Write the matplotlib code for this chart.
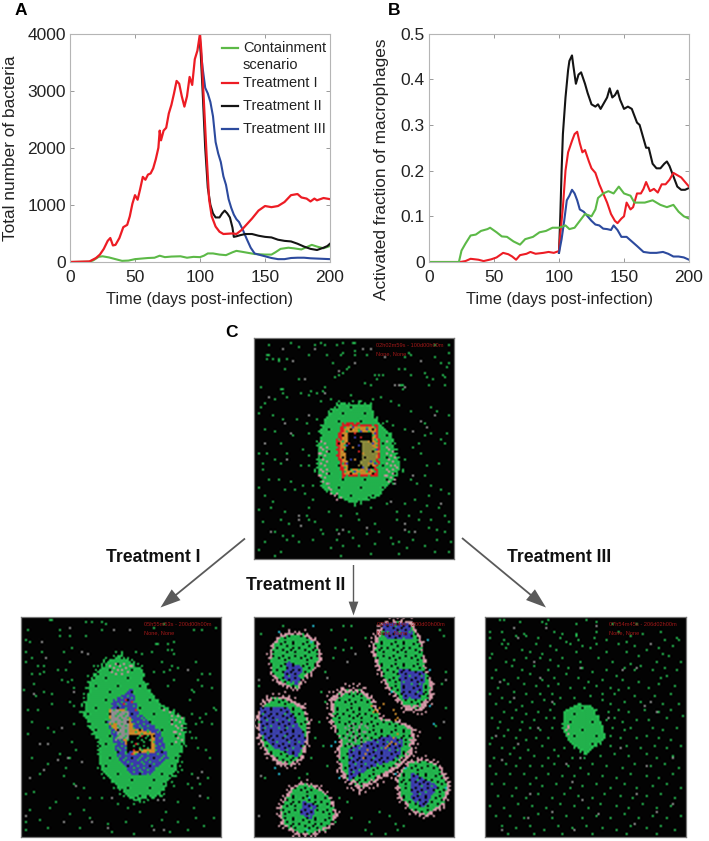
import numpy as np
import matplotlib
matplotlib.use('Agg')
import matplotlib.pyplot as plt
from matplotlib.path import Path

plt.rcParams['font.family'] = ['Liberation Sans', 'DejaVu Sans']

W, H = 709, 841
C_GREEN = '#5cb947'
C_RED = '#ed1c24'
C_BLACK = '#141414'
C_BLUE = '#2c4a9e'

# panel A curves (day, bacteria)
a_red_t = [0,15,20,23,26,29,31,33,35,38,41,44,46,48,50,52,54,56,58,60,62,64,66,68,69,70,72,74,76,78,80,82,84,86,88,90,92,94,96,98,100,101,103,105,107,109,112,115,118,125,128,132,136,140,145,150,155,160,165,170,175,178,182,185,188,190,195,200]
a_red_v = [0,10,70,130,230,370,420,290,300,420,610,650,800,1020,1170,1090,1280,1490,1440,1530,1550,1640,1800,2000,2300,2130,2300,2350,2600,2750,2950,3170,3120,2900,2720,2900,3240,3100,3550,3700,4000,3700,2800,1900,1100,800,620,530,490,500,490,560,660,760,900,980,960,980,1050,1170,1190,1130,1110,1060,1110,1080,1120,1100]
a_black_t = [100,102,104,106,108,110,112,115,117,119,121,123,125,126,128,131,135,140,145,150,155,160,165,170,175,180,185,190,195,198,200]
a_black_v = [3900,3000,2000,1300,1000,850,780,780,850,900,850,780,600,440,450,470,490,490,460,440,430,390,370,360,320,270,230,210,250,280,320]
a_blue_t = [100,102,104,106,108,110,112,114,116,118,120,122,124,126,128,130,133,136,139,142,145,150,155,160,165,170,175,180,185,190,195,200]
a_blue_v = [3850,3400,3050,2950,2800,2550,2100,1900,1750,1500,1350,1100,950,830,750,700,560,400,250,150,130,100,70,50,50,70,75,75,65,60,55,50]
a_green_t = [0,15,18,22,25,30,35,40,45,50,55,60,65,69,73,78,85,90,95,100,103,106,110,115,120,125,128,132,137,142,150,155,158,162,168,172,178,183,186,190,195,200]
a_green_v = [0,5,30,90,100,80,50,20,25,50,60,70,75,110,85,95,100,75,90,85,110,150,150,130,120,170,195,180,160,140,130,130,170,230,250,240,220,270,300,270,240,280]

# panel B curves (day, fraction)
b_black_t = [100,101,102,103,105,107,108,110,111,113,115,117,120,122,125,128,130,132,135,137,139,141,143,145,147,150,153,156,158,160,162,165,167,169,172,175,178,181,183,185,187,189,191,194,197,200]
b_black_v = [0.02,0.1,0.2,0.28,0.36,0.42,0.44,0.452,0.43,0.39,0.41,0.415,0.39,0.37,0.345,0.34,0.345,0.335,0.35,0.36,0.38,0.36,0.365,0.375,0.355,0.335,0.34,0.335,0.32,0.305,0.3,0.27,0.25,0.25,0.215,0.205,0.205,0.215,0.22,0.21,0.195,0.18,0.165,0.158,0.158,0.162]
b_red_t = [0,24,28,32,38,42,48,52,57,61,64,67,70,75,78,82,88,92,96,100,101,103,105,107,110,112,114,116,118,120,123,125,128,131,134,137,140,143,145,148,150,152,155,157,160,163,165,167,170,173,176,179,182,185,188,191,194,197,200]
b_red_v = [0,0,0.002,0.007,0.005,0.002,0.006,0.01,0.02,0.017,0.012,0.005,0.015,0.018,0.022,0.018,0.02,0.022,0.02,0.024,0.06,0.12,0.2,0.24,0.265,0.28,0.285,0.26,0.24,0.245,0.22,0.205,0.195,0.17,0.15,0.13,0.105,0.09,0.085,0.095,0.1,0.13,0.115,0.12,0.15,0.15,0.16,0.175,0.155,0.16,0.152,0.17,0.17,0.18,0.195,0.19,0.185,0.175,0.165]
b_green_t = [0,23,25,28,32,36,40,45,47,52,56,60,65,70,74,80,85,90,95,100,105,108,112,116,120,125,128,130,134,138,142,146,150,155,158,162,166,172,178,183,188,192,196,200]
b_green_v = [0,0,0.025,0.04,0.058,0.06,0.068,0.072,0.075,0.065,0.056,0.055,0.045,0.038,0.05,0.055,0.065,0.068,0.075,0.075,0.08,0.072,0.075,0.09,0.105,0.1,0.115,0.14,0.15,0.155,0.15,0.165,0.15,0.145,0.13,0.13,0.13,0.135,0.125,0.12,0.125,0.11,0.1,0.095]
b_blue_t = [100,102,104,106,108,110,112,114,116,119,122,125,128,131,134,137,140,142,145,148,152,156,160,165,170,175,180,184,188,192,196,200]
b_blue_v = [0.02,0.05,0.09,0.135,0.145,0.158,0.15,0.135,0.115,0.11,0.1,0.09,0.082,0.08,0.073,0.072,0.07,0.08,0.07,0.055,0.055,0.045,0.035,0.022,0.02,0.02,0.022,0.018,0.012,0.012,0.01,0.005]

legend_labels = ['Containment\nscenario', 'Treatment I', 'Treatment II', 'Treatment III']
arrow_labels = ['Treatment I', 'Treatment II', 'Treatment III']

# simulation grids: 100 x 110 cells
CELL = {'g': '#22b14c', 'b': '#3a3fa6', 'o': '#c4852b', 'l': '#85853a', 'k': '#050505',
        'e': '#8c8c8c', 'p': '#c4919c', 'r': '#cf2222', 'c': '#22b5c9', 'u': '#6b2b6e'}

tile_dense = ['###########','####.######','##########.','###########','.##########','######.####','###########','##.########','#########.#','###########','#####.#####']
tile_mid = ['#.###.#####','####.###.##','##.#####.##','#####.#####','.###.###.##','###.###.###','#####.###.#','.#####.####','###.#####.#','#.####.####','####.###.##']
tile_sparse = ['.#...#..#..','...#...#...','#....#....#','..#.....#..','....#.#....','.#.......#.','...#..#....','#.....#..#.','..#.#......','.....#...#.','#..#....#..']

top_layers = [
    ('g', [(37.5,37),(43,33),(58,34),(60,41),(67,47.5),(70,57.5),(72,64),(67,71),(60,77.5),(50,81),(42,78),(35,74),(32,66),(32.5,54),(34,44)], tile_dense),
    ('p', [(32,50),(37,50),(36,72),(44,80),(40,80),(32,68)], tile_sparse),
    ('p', [(66,50),(72,60),(70,70),(64,72)], tile_sparse),
    ('r', [(44,41),(61,43),(63,56),(61,68),(44,69),(41,58),(41,50)], tile_mid),
    ('o', [(45,43),(60,44),(62,56),(59,67),(45,67),(42.5,58),(43,51)], tile_mid),
    ('k', [(47,46),(58,46),(59,64),(47,65),(45,56)], tile_dense),
    ('l', [(53,51),(57,50),(61,57),(60,60),(55,65),(52,63),(54,58)], tile_dense),
]
top_blue = [(49,44),(53,46),(56,45),(60,47),(59,52),(61,55),(46,53),(50,49),(58,61),(48,60),(50,66),(54,64),(57,65),(46,62),(52,53),(60,62)]
top_red = [(50,47),(53,49),(44,55),(47,52),(52,56),(57,66),(62,50),(45,62)]
left_layers = [
    ('g', [(49.5,20),(60,27),(61,33),(68,43),(80,50),(80,62),(76,75),(68,87),(56,90),(48,83),(40,75),(39,62),(32,48),(35,32),(41,25)], tile_dense),
    ('p', [(68,43),(80,50),(80,62),(76,62),(74,50)], tile_sparse),
    ('p', [(44,22),(55,22),(56,28),(44,28)], tile_sparse),
    ('b', [(44.5,42),(55,35),(58,47),(69.5,57),(73,70),(64.5,78),(54.5,78),(48,70),(46,62),(43,52)], tile_mid),
    ('o', [(44,45),(52,45),(56,55),(66,57.5),(66,67),(56,68),(49.5,60),(44,53)], tile_mid),
    ('k', [(52,58),(65,58),(64,65),(53,67)], tile_mid),
    ('e', [(44.5,45),(53,47),(53,60),(47,61),(48,53),(44,52)], tile_mid),
]
left_red = [(52,41),(55,42),(57,46),(51,43),(56,66),(55,68),(57,63),(60,59)]
mid_blobs = [
    [(12,9),(17,7),(24,7),(31,12),(33,20),(30,26),(25,30),(21,36),(14,34),(8,28),(7,20),(8,14)],
    [(4,42),(9,39),(15,39),(24,44),(27,52),(26,62),(24,70),(18,74),(12,73),(6,68),(2,60),(1,50)],
    [(18,85),(24,82),(31,84),(38,90),(41,98),(37,105),(28,109),(20,108),(13,103),(12,95)],
    [(62,4),(70,1),(78,2),(83,12),(85,25),(88,32),(88,40),(83,46),(75,46),(66,35),(62,27),(58,16)],
    [(38,40),(44,35),(52,35),(58,40),(63,50),(72,52),(80,56),(78,68),(70,76),(60,82),(52,86),(44,80),(41,72),(42,62),(38,52)],
    [(76,72),(84,70),(92,74),(97,84),(94,94),(86,99),(78,97),(72,90),(70,80)],
]
mid_blue = [
    [(16,22),(23,25),(21,33),(15,30)],
    [(4,46),(16,46),(24,60),(20,68),(10,64),(4,58)],
    [(24,92),(30,94),(28,100),(23,98)],
    [(64,3),(76,3),(78,10),(66,10)],
    [(72,26),(84,28),(82,40),(74,40)],
    [(48,66),(58,62),(66,60),(72,62),(70,70),(58,74),(48,80)],
    [(78,78),(90,84),(84,94),(78,90)],
]
mid_orange = [(58,44),(60,46),(62,45),(64,43),(61,47),(59,47),(69,46),(70,48),(71,50),(70,51),(68,62),(69,60),(70,63),(71,58),(66,64),(67,63),(65,65),(55,68),(54,70),(56,66)]
mid_mesh = [(45,52),(56,52),(56,64),(45,64)]
right_layers = [
    ('g', [(39,47),(47,43),(53.5,45),(58.5,57),(58.5,60),(50,67.5),(42,62.5),(38.5,55)], tile_dense),
    ('p', [(38,53),(42,53),(43,58),(39,58)], tile_sparse),
]

top_green = [(7,3),(18,2),(22,4),(30,3),(33,2),(35,3),(41,3),(44,2),(49,2),(50,2),(6,8),(7,8),(6,10),(9,10),(12,10),(16,10),(27,8),(36,8),(43,8),(44,7),(50,8),(50,6),(12,11),(56,8),(77,7),(78,8),(90,3),(97,3),(97,7),(75,9),(90,9),(93,12),(97,12),(96,14),(39,12),(47,14),(46,15),(15,15),(42,18),(44,17),(60,18),(62,18),(64,18),(72,15),(75,15),(78,18),(85,17),(86,19),(89,20),(94,18),(95,19),(3,24),(13,25),(14,25),(22,20),(40,19),(55,22),(61,20),(58,23),(73,23),(74,23),(74,25),(87,23),(95,23),(14,27),(28,26),(34,26),(35,24),(3,34),(5,32),(10,30),(16,29),(23,27),(27,28),(31,27),(33,31),(38,30),(48,28),(52,31),(59,30),(63,29),(68,31),(72,33),(78,36),(88,34),(91,36),(97,38),(2,37),(9,38),(14,40),(21,40),(26,42),(31,40),(66,41),(69,43),(75,45),(85,42),(88,47),(93,50),(95,52),(5,45),(10,46),(19,48),(27,47),(5,52),(13,52),(24,55),(85,48),(79,54),(82,52),(96,47),(2,57),(6,57),(10,60),(16,57),(27,58),(27,63),(75,60),(83,57),(92,62),(4,62),(4,65),(13,62),(23,63),(74,66),(86,63),(85,68),(7,70),(12,70),(18,71),(24,73),(29,73),(2,74),(15,75),(20,75),(25,77),(29,80),(78,70),(81,72),(88,73),(93,75),(97,77),(5,78),(9,81),(27,84),(66,82),(75,82),(80,80),(87,78),(92,84),(2,85),(8,84),(15,86),(26,88),(37,86),(43,88),(51,87),(58,84),(71,86),(83,86),(86,83),(95,88),(4,91),(13,90),(17,92),(27,90),(30,91),(52,90),(60,92),(71,90),(77,88),(82,90),(88,90),(91,95),(97,91),(10,96),(14,98),(19,98),(33,95),(41,95),(47,96),(56,97),(62,96),(77,96),(87,94),(95,96),(5,101),(16,100),(29,100),(34,97),(41,100),(49,99),(68,99),(72,101),(79,100),(85,103),(91,100),(98,101),(2,105),(13,106),(22,101),(38,104),(44,103),(52,103),(60,102),(69,102),(76,104),(90,106),(97,106),(10,108),(43,108),(58,107),(72,107)]
top_grey = [(14,5),(30,5),(54,5),(58,5),(19,11),(65,9),(83,11),(50,12),(42,16),(25,20),(70,23),(72,23),(75,24),(7,29),(35,27),(90,38),(15,42),(27,38),(83,41),(86,44),(18,47),(79,46),(5,52),(16,60),(79,68),(70,72),(37,72),(68,81),(22,90),(75,92),(93,82),(23,93),(56,94),(22,88),(8,96),(42,97),(75,95),(80,96),(44,95)]
left_green = [(14,1),(15,1),(32,2),(35,2),(40,2),(42,3),(3,6),(19,6),(40,6),(66,5),(71,3),(86,6),(90,6),(97,5),(2,11),(19,9),(24,9),(32,9),(4,12),(67,13),(68,13),(76,12),(73,13),(2,17),(5,20),(10,17),(21,17),(25,15),(57,17),(60,18),(65,17),(73,16),(75,16),(76,18),(2,22),(8,24),(11,24),(18,26),(24,22),(36,24),(70,22),(75,24),(78,25),(87,22),(5,28),(9,28),(11,27),(22,26),(66,27),(71,27),(74,26),(90,28),(94,28),(6,33),(20,31),(23,32),(25,31),(76,31),(88,31),(90,34),(95,35),(1,36),(11,37),(15,38),(26,35),(73,34),(85,36),(86,37),(7,39),(15,43),(24,42),(84,41),(96,45),(97,46),(3,46),(8,46),(26,44),(29,47),(85,48),(89,50),(92,48),(5,52),(13,55),(26,53),(87,53),(90,52),(95,53),(3,58),(16,57),(84,57),(85,60),(87,60),(19,68),(25,62),(27,66),(88,65),(92,66),(5,70),(13,73),(24,70),(94,70),(22,75),(80,76),(85,78),(93,80),(9,78),(21,79),(26,83),(31,85),(76,84),(83,83),(85,85),(89,83),(2,88),(6,87),(17,92),(28,90),(34,90),(40,90),(48,93),(70,89),(78,92),(86,95),(93,90),(4,96),(14,95),(24,98),(31,96),(53,95),(59,97),(72,97),(87,100),(96,100),(2,102),(9,101),(21,102),(34,100),(43,103),(52,102),(65,104),(70,101),(78,102),(91,104),(2,106),(13,105),(29,105),(45,107),(56,108),(74,107),(83,106)]
left_grey = [(24,5),(46,6),(54,6),(10,12),(30,17),(12,20),(33,18),(83,26),(6,38),(26,37),(20,55),(9,63),(13,63),(18,71),(30,72),(11,76),(23,70),(90,77),(88,80),(4,80),(27,84),(45,90),(89,89),(71,91),(68,91),(2,99),(35,102),(66,106),(43,105),(21,102),(71,106)]
mid_green = [(3,8),(14,4),(38,6),(44,4),(48,4),(40,15),(44,16),(45,11),(35,27),(39,20),(48,15),(55,10),(92,6),(94,9),(95,27),(93,33),(33,37),(35,42),(2,34),(95,45),(90,54),(92,60),(30,60),(34,64),(28,70),(36,74),(32,52),(5,80),(26,78),(22,80),(42,90),(46,92),(62,97),(67,99),(70,103),(55,106),(48,100),(35,106),(71,106),(65,108),(58,108),(74,104),(40,102),(57,102)]
mid_grey = [(46,22),(50,18),(2,31),(95,31),(3,79),(2,99),(70,52),(94,52),(50,60),(36,30)]
mid_cyan = [(29,4),(28,12),(12,7),(86,11),(87,26),(87,44),(68,37),(40,62),(38,64),(89,53),(12,78),(10,75),(75,75),(70,78),(27,90),(26,106),(42,80),(95,85)]
right_green = [(7,1),(9,1),(17,2),(28,2),(30,3),(31,1),(45,3),(50,1),(55,2),(63,3),(75,3),(2,7),(8,7),(14,5),(19,8),(20,9),(34,7),(38,8),(45,8),(55,7),(66,7),(72,9),(78,8),(87,7),(2,10),(9,11),(15,9),(26,10),(37,10),(40,12),(46,11),(45,9),(54,10),(60,11),(70,12),(82,13),(89,11),(95,10),(96,11),(8,13),(11,13),(18,16),(25,13),(32,14),(42,13),(48,14),(55,13),(66,13),(74,14),(80,16),(86,15),(93,14),(3,18),(10,15),(22,17),(28,18),(35,16),(45,17),(52,15),(60,17),(70,17),(76,19),(88,18),(91,19),(2,20),(10,22),(14,21),(20,20),(27,20),(32,21),(38,20),(47,22),(56,20),(63,22),(72,23),(77,24),(85,22),(97,22),(5,26),(13,24),(18,26),(24,24),(31,26),(36,24),(41,25),(48,25),(53,27),(60,26),(69,25),(74,26),(83,26),(89,25),(95,26),(3,30),(9,31),(16,30),(22,28),(28,31),(34,30),(40,28),(46,30),(51,32),(58,31),(65,29),(68,31),(76,32),(87,30),(90,29),(6,35),(11,33),(19,33),(25,34),(31,34),(36,33),(42,35),(49,35),(55,34),(62,35),(71,35),(81,35),(86,33),(94,34),(2,38),(8,40),(14,37),(20,38),(27,38),(33,38),(37,40),(44,40),(52,39),(58,38),(64,38),(66,36),(74,39),(84,39),(92,38),(5,43),(12,42),(18,44),(23,42),(29,41),(34,43),(58,41),(62,43),(69,42),(77,42),(88,43),(96,43),(9,47),(15,46),(20,48),(26,47),(32,46),(61,47),(66,46),(71,47),(79,46),(86,47),(92,46),(3,50),(7,52),(13,50),(18,52),(24,51),(30,50),(34,50),(60,51),(64,50),(68,52),(75,51),(81,51),(90,50),(98,49),(6,55),(11,56),(17,56),(22,55),(27,56),(33,55),(63,55),(69,56),(72,55),(83,55),(88,56),(95,55),(3,60),(9,59),(15,60),(20,61),(25,60),(31,60),(62,59),(67,60),(75,60),(80,59),(86,60),(92,61),(2,63),(8,65),(14,65),(21,66),(28,64),(34,66),(39,65),(55,64),(62,64),(70,64),(77,65),(84,64),(90,65),(97,64),(4,70),(12,68),(17,70),(24,69),(31,70),(36,69),(43,70),(49,70),(57,69),(64,68),(71,69),(80,68),(85,70),(93,69),(2,74),(10,73),(15,74),(22,74),(28,74),(34,73),(41,74),(47,75),(53,73),(60,74),(68,75),(74,73),(82,74),(89,73),(96,75),(5,78),(12,78),(19,78),(25,80),(31,78),(38,79),(44,79),(51,78),(58,79),(65,80),(72,78),(80,79),(86,80),(93,78),(3,83),(9,83),(15,85),(22,83),(28,84),(35,83),(42,85),(48,84),(55,83),(62,85),(69,83),(75,85),(83,84),(90,83),(97,85),(6,89),(13,89),(20,90),(26,88),(33,90),(39,88),(46,89),(53,90),(59,88),(67,89),(73,90),(80,89),(87,88),(94,90),(2,94),(9,95),(16,93),(23,94),(30,95),(37,93),(44,94),(51,95),(57,93),(65,94),(71,95),(78,93),(85,95),(92,94),(5,99),(12,99),(19,100),(26,98),(33,100),(40,99),(48,100),(55,99),(62,100),(69,98),(76,100),(83,99),(90,100),(97,99),(8,104),(15,105),(22,104),(29,106),(36,104),(43,105),(50,104),(58,105),(65,106),(72,104),(80,105),(87,104),(94,106),(11,108),(24,108),(38,108),(53,108),(70,108),(85,108)]
right_grey = [(14,5),(30,5),(55,4),(16,10),(82,13),(24,22),(47,25),(27,30),(68,26),(75,25),(7,32),(33,42),(14,40),(82,42),(79,44),(85,47),(61,50),(26,55),(5,59),(16,63),(93,70),(8,71),(40,73),(67,65),(47,70),(80,74),(43,82),(22,88),(75,88),(48,91),(93,93),(33,97),(21,100),(56,98),(85,97),(8,106),(44,106),(74,103)]

panel_text = [('02h02m59s - 100d00h00m', 'None, None'),
              ('05h55m53s - 200d00h00m', 'None, None'),
              ('02h51m44s - 200d00h00m', 'None, None'),
              ('07h54m45s - 206d02h00m', 'None, None')]


def scaled(poly, k):
    cx = np.mean([p[0] for p in poly])
    cy = np.mean([p[1] for p in poly])
    return [(cx + (x - cx) * k, cy + (y - cy) * k) for x, y in poly]


def paint(grid, poly, name, tile):
    rows, cols = grid.shape[:2]
    yy, xx = np.mgrid[0:rows, 0:cols]
    inside = Path(poly).contains_points(np.c_[xx.ravel(), yy.ravel()]).reshape(rows, cols)
    pat = np.array([[ch == '#' for ch in row] for row in tile])
    pat = np.tile(pat, (rows // 11 + 1, cols // 11 + 1))[:rows, :cols]
    grid[inside & pat] = matplotlib.colors.to_rgb(CELL[name])


def dots(grid, pts, name):
    for x, y in pts:
        grid[y, x] = matplotlib.colors.to_rgb(CELL[name])


def px_axes(fig, x0, y0, x1, y1):
    return fig.add_axes([x0 / W, 1 - y1 / H, (x1 - x0) / W, (y1 - y0) / H])


def curve_axes(fig, x0, ylim, yticks, ylabel, ylab_x, ylab_y):
    ax = px_axes(fig, x0, 33.5, x0 + 260, 262)
    ax.set_xlim(0, 200)
    ax.set_ylim(*ylim)
    ax.set_xticks([0, 50, 100, 150, 200])
    ax.set_yticks(yticks)
    ax.tick_params(direction='in', length=3, width=0.7, color='#999999', labelsize=12.5,
                   labelcolor='#222222', top=True, right=True, pad=3)
    ax.tick_params(axis='x', pad=6)
    for s in ax.spines.values():
        s.set_color('#b5b5b5')
        s.set_linewidth(0.8)
    ax.set_xlabel('Time (days post-infection)', fontsize=11.7, color='#222222', labelpad=5)
    fig.text(ylab_x / W, 1 - ylab_y / H, ylabel, rotation=90, fontsize=12.4, color='#222222',
             ha='center', va='center')
    return ax


def sim_panel(fig, rect, layers, spots, text):
    grid = np.zeros((110, 100, 3)) + 0.015
    for name, poly, tile in layers:
        if name == 'g':
            # ragged edge round the dense colonies
            paint(grid, scaled(poly, 1.12), name, tile_sparse)
            paint(grid, scaled(poly, 1.05), name, tile_mid)
        paint(grid, poly, name, tile)
    for name, pts in spots:
        dots(grid, pts, name)
    ax = px_axes(fig, *rect)
    ax.imshow(grid, aspect='auto', interpolation='spline16')
    ax.set_xticks([])
    ax.set_yticks([])
    for s in ax.spines.values():
        s.set_color('#777777')
        s.set_linewidth(0.9)
    ax.text(61, 3.2, text[0], color='#a01818', fontsize=4.1, va='center')
    ax.text(61, 7.3, text[1], color='#a01818', fontsize=4.1, va='center')
    return ax


fig = plt.figure(figsize=(W / 100, H / 100), dpi=100)

# A
ax_a = curve_axes(fig, 70, (0, 4000), [0, 1000, 2000, 3000, 4000], 'Total number of bacteria', 11, 148)
ax_a.plot(a_green_t, a_green_v, color=C_GREEN, lw=1.5)
ax_a.plot(a_blue_t, a_blue_v, color=C_BLUE, lw=1.5)
ax_a.plot(a_black_t, a_black_v, color=C_BLACK, lw=1.5)
ax_a.plot(a_red_t, a_red_v, color=C_RED, lw=1.6)

# B
ax_b = curve_axes(fig, 429, (0, 0.5), [0, 0.1, 0.2, 0.3, 0.4, 0.5], 'Activated fraction of macrophages', 381, 169)
ax_b.set_yticklabels(['0', '0.1', '0.2', '0.3', '0.4', '0.5'])
ax_b.plot(b_black_t, b_black_v, color=C_BLACK, lw=1.5)
ax_b.plot(b_red_t, b_red_v, color=C_RED, lw=1.5)
ax_b.plot(b_blue_t, b_blue_v, color=C_BLUE, lw=1.5)
ax_b.plot(b_green_t, b_green_v, color=C_GREEN, lw=1.5)

# C panels
mid_layers = []
for blob in mid_blobs:
    mid_layers.append(('p', scaled(blob, 1.12), tile_sparse))
    mid_layers.append(('p', blob, tile_mid))
for blob in mid_blobs:
    mid_layers.append(('g', scaled(blob, 0.86), tile_mid))
for blob in mid_blue:
    mid_layers.append(('b', scaled(blob, 1.15), tile_mid))
mid_layers.append(('e', mid_mesh, tile_sparse))

sim_panel(fig, (253.5, 338, 453.5, 559), top_layers,
          [('g', top_green), ('e', top_grey), ('b', top_blue), ('r', top_red)], panel_text[0])
sim_panel(fig, (21, 617, 221, 837), left_layers,
          [('g', left_green), ('e', left_grey), ('r', left_red)], panel_text[1])
sim_panel(fig, (253.5, 617, 454, 837), mid_layers,
          [('g', mid_green), ('e', mid_grey), ('c', mid_cyan), ('o', mid_orange)], panel_text[2])
sim_panel(fig, (485, 617, 686, 837), right_layers,
          [('g', right_green), ('e', right_grey)], panel_text[3])

# overlay in pixel coords: legend, arrows, letters
over = fig.add_axes([0, 0, 1, 1])
over.set_xlim(0, W)
over.set_ylim(H, 0)
over.axis('off')
over.patch.set_alpha(0)

leg_y = [48, 83, 106, 129]
leg_col = [C_GREEN, C_RED, C_BLACK, C_BLUE]
for lab, yy, col in zip(legend_labels, leg_y, leg_col):
    over.plot([222, 238], [yy, yy], color=col, lw=1.6)
    over.text(243, yy - 7, lab, fontsize=10.5, color='#222222', va='top', linespacing=1.3)

big_head = 'simple,head_length=1.45,head_width=1.0,tail_width=0.13'
small_head = 'simple,head_length=1.0,head_width=0.7,tail_width=0.1'
arrows = [(245, 538.5, 160.5, 607.5, big_head), (353.5, 565, 353.5, 615.5, small_head), (462, 538, 546, 607.5, big_head)]
for x0, y0, x1, y1, style in arrows:
    over.annotate('', xy=(x1, y1), xytext=(x0, y0),
                  arrowprops=dict(arrowstyle=style, color='#5a5a5a', lw=0,
                                  shrinkA=0, shrinkB=0))

over.text(153, 557.5, arrow_labels[0], fontsize=12.7, fontweight='bold', ha='center', va='center', color='#111111')
over.text(295.5, 585.5, arrow_labels[1], fontsize=12.7, fontweight='bold', ha='center', va='center', color='#111111')
over.text(559, 557.5, arrow_labels[2], fontsize=12.7, fontweight='bold', ha='center', va='center', color='#111111')

over.text(21, 10, 'A', fontsize=12.5, fontweight='bold', ha='center', va='center')
over.text(394, 10, 'B', fontsize=12.5, fontweight='bold', ha='center', va='center')
over.text(232, 332, 'C', fontsize=12.5, fontweight='bold', ha='center', va='center')

fig.savefig('out.png', dpi=100)
